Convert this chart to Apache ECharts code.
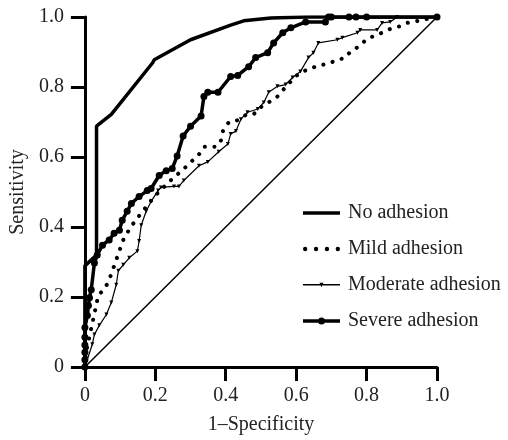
<!DOCTYPE html>
<html>
<head>
<meta charset="utf-8">
<script src="https://cdn.jsdelivr.net/npm/echarts@6/dist/echarts.min.js"></script>
<style>
html,body{margin:0;padding:0;background:#fff;}
#chart{width:508px;height:440px;}
</style>
</head>
<body>
<div id="chart"></div>
<script>
var seriesNames = ['No adhesion', 'Mild adhesion', 'Moderate adhesion', 'Severe adhesion'];
var xTicks = [0, 0.2, 0.4, 0.6, 0.8, 1.0];
var yTicks = [0, 0.2, 0.4, 0.6, 0.8, 1.0];
var xAxisName = '1–Specificity';
var yAxisName = 'Sensitivity';

var noAdhesion = [
  [0, 0], [0, 0.289], [0.033, 0.32], [0.033, 0.688], [0.075, 0.722], [0.193, 0.87],
  [0.197, 0.878], [0.30, 0.935], [0.414, 0.977], [0.451, 0.989], [0.528, 0.997],
  [0.632, 1.0], [1, 1]
];

var mildAdhesion = [
  [0, 0], [0.005, 0.05], [0.02, 0.12], [0.038, 0.204], [0.058, 0.227], [0.069, 0.249],
  [0.089, 0.306], [0.109, 0.363], [0.13, 0.40], [0.16, 0.44], [0.20, 0.49], [0.24, 0.53],
  [0.282, 0.567], [0.301, 0.586], [0.321, 0.603], [0.338, 0.629], [0.372, 0.629],
  [0.386, 0.646], [0.392, 0.674], [0.409, 0.700], [0.434, 0.705], [0.457, 0.720],
  [0.479, 0.722], [0.499, 0.742], [0.522, 0.756], [0.547, 0.773], [0.564, 0.793],
  [0.598, 0.830], [0.618, 0.844], [0.663, 0.861], [0.692, 0.867], [0.711, 0.875],
  [0.740, 0.884], [0.754, 0.901], [0.777, 0.915], [0.802, 0.938], [0.844, 0.955],
  [0.867, 0.966], [0.890, 0.972], [0.915, 0.983], [1, 1]
];

var moderateAdhesion = [
  [0, 0], [0.021, 0.065], [0.027, 0.093], [0.041, 0.119], [0.061, 0.150], [0.075, 0.184],
  [0.089, 0.235], [0.095, 0.275], [0.109, 0.292], [0.126, 0.312], [0.149, 0.331],
  [0.154, 0.360], [0.160, 0.405], [0.174, 0.445], [0.188, 0.473], [0.208, 0.504],
  [0.216, 0.513], [0.253, 0.516], [0.267, 0.516], [0.281, 0.533], [0.324, 0.575],
  [0.349, 0.586], [0.380, 0.615], [0.406, 0.637], [0.414, 0.666], [0.429, 0.674],
  [0.443, 0.708], [0.462, 0.728], [0.491, 0.737], [0.508, 0.756], [0.522, 0.785],
  [0.547, 0.802], [0.570, 0.807], [0.590, 0.827], [0.612, 0.844], [0.635, 0.884],
  [0.649, 0.898], [0.663, 0.926], [0.717, 0.935], [0.731, 0.941], [0.774, 0.955],
  [0.782, 0.963], [0.830, 0.963], [0.844, 0.983], [0.867, 0.986], [0.887, 1.0], [1, 1]
];

var severeAdhesion = [
  [0, 0], [0, 0.021], [0, 0.042], [0, 0.063], [0, 0.085], [0, 0.113], [0.007, 0.147],
  [0.01, 0.176], [0.013, 0.198], [0.018, 0.221], [0.027, 0.297], [0.035, 0.320],
  [0.05, 0.348], [0.069, 0.363], [0.083, 0.382], [0.098, 0.391], [0.106, 0.419],
  [0.12, 0.445], [0.132, 0.467], [0.154, 0.487], [0.177, 0.504], [0.188, 0.51],
  [0.211, 0.547], [0.231, 0.561], [0.248, 0.567], [0.262, 0.603], [0.279, 0.660],
  [0.30, 0.688], [0.33, 0.717], [0.338, 0.773], [0.349, 0.785], [0.378, 0.785],
  [0.414, 0.83], [0.434, 0.833], [0.465, 0.858], [0.485, 0.884], [0.519, 0.898],
  [0.536, 0.926], [0.562, 0.955], [0.585, 0.969], [0.627, 0.986], [0.683, 0.986],
  [0.692, 1.0], [0.70, 1.0], [0.75, 1.0], [0.77, 1.0], [0.80, 1.0], [1, 1]
];

var referenceLine = [[0, 0], [1, 1]];

var FONT = "'Liberation Serif', 'DejaVu Serif', serif";
var INK = '#000';

function fmt(v) { return v === 0 ? '0' : v.toFixed(1); }

var chart = echarts.init(document.getElementById('chart'), null, {renderer: 'canvas'});

var axisCommon = {
  type: 'value',
  min: 0, max: 1, interval: 0.2,
  splitLine: {show: false},
  axisLine: {show: true, onZero: false, lineStyle: {color: INK, width: 3}},
  axisTick: {show: true, inside: false, length: 14, lineStyle: {color: INK, width: 3}},
  axisLabel: {color: '#222', fontFamily: FONT, fontSize: 20, formatter: fmt},
  nameLocation: 'middle',
  nameTextStyle: {color: '#222', fontFamily: FONT, fontSize: 20}
};

var iconLine = 'path://M0,0h37v3.6h-37z';
var iconDots = 'path://M0,2a2,2 0 1,1 4,0a2,2 0 1,1 -4,0z M10,2a2,2 0 1,1 4,0a2,2 0 1,1 -4,0z M20,2a2,2 0 1,1 4,0a2,2 0 1,1 -4,0z M30,2a2,2 0 1,1 4,0a2,2 0 1,1 -4,0z';
var iconTri = 'path://M0,3.3h37v1.4h-37z M16.5,2h4l-2,4.5z';
var iconCircle = 'path://M0,2.7h37v3.6h-37z M15,4.5a3.5,3.5 0 1,1 7,0a3.5,3.5 0 1,1 -7,0z';

var option = {
  animation: false,
  backgroundColor: '#fff',
  grid: {left: 83.5, right: 71, top: 17, bottom: 70, containLabel: false},
  xAxis: Object.assign({}, axisCommon, {
    name: xAxisName, nameGap: 48,
    axisLabel: Object.assign({}, axisCommon.axisLabel, {margin: 19})
  }),
  yAxis: Object.assign({}, axisCommon, {
    name: yAxisName, nameGap: 53,
    axisLabel: Object.assign({}, axisCommon.axisLabel, {margin: 21})
  }),
  legend: {
    orient: 'vertical',
    left: 303, top: 203, padding: 0,
    itemWidth: 37, itemHeight: 9,
    itemGap: 16,
    itemStyle: {borderWidth: 0},
    textStyle: {color: '#222', fontFamily: FONT, fontSize: 20, padding: [0, 0, 0, 3]},
    data: [
      {name: seriesNames[0], icon: iconLine},
      {name: seriesNames[1], icon: iconDots},
      {name: seriesNames[2], icon: iconTri},
      {name: seriesNames[3], icon: iconCircle}
    ]
  },
  series: [
    {
      name: seriesNames[0], type: 'line', data: noAdhesion,
      symbol: 'none', color: INK,
      lineStyle: {color: INK, width: 3.5}, z: 3
    },
    {
      name: seriesNames[1], type: 'line', data: mildAdhesion,
      symbol: 'none', color: INK,
      lineStyle: {color: INK, width: 4, type: [0.1, 9.5], cap: 'round'}, z: 3
    },
    {
      name: seriesNames[2], type: 'line', data: moderateAdhesion,
      symbol: 'triangle', symbolSize: [4, 4], symbolRotate: 180, showAllSymbol: true,
      color: INK, itemStyle: {color: INK},
      lineStyle: {color: INK, width: 1.2}, z: 3
    },
    {
      name: seriesNames[3], type: 'line', data: severeAdhesion,
      symbol: 'circle', symbolSize: 7, showAllSymbol: true,
      color: INK, itemStyle: {color: INK},
      lineStyle: {color: INK, width: 3.5}, z: 4
    },
    {
      name: 'reference', type: 'line', data: referenceLine,
      symbol: 'none', color: INK,
      lineStyle: {color: INK, width: 1.5}, z: 2
    }
  ]
};

chart.setOption(option);
</script>
</body>
</html>
